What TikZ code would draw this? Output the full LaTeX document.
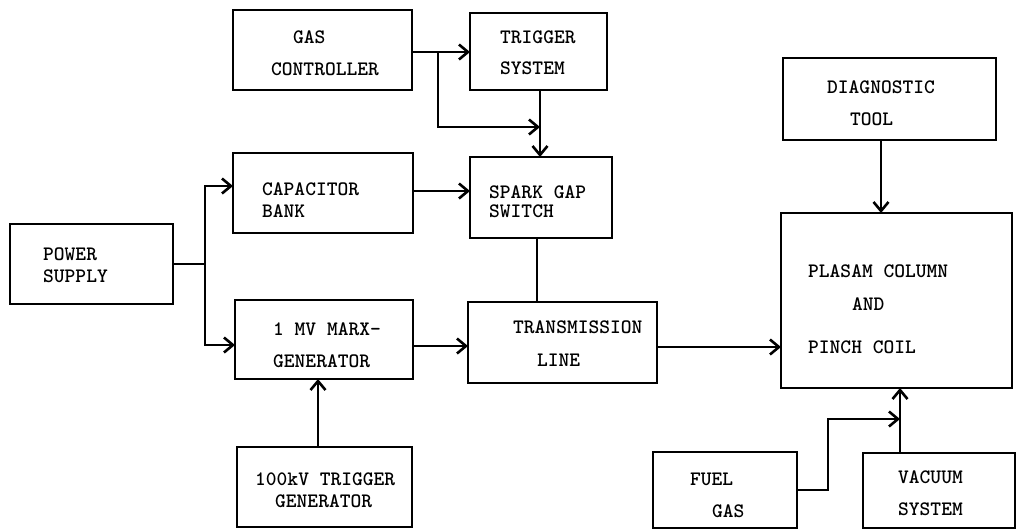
\documentclass[tikz,border=0pt]{standalone}
\usetikzlibrary{arrows.meta}
\begin{document}
\begin{tikzpicture}[x=1pt,y=-1pt,
  box/.style={draw,line width=2.8pt,inner sep=0pt,outer sep=0pt},
  lbl/.style={anchor=base west,inner sep=0pt,font=\fontsize{20.5}{24}\selectfont\ttfamily\bfseries},
  wire/.style={line width=2.8pt},
  arr/.style={wire,-{Straight Barb[length=9pt,width=15pt,line width=2.6pt]}}]
\useasboundingbox (0,0) rectangle (1029,531);
% boxes
\node[box,minimum width=163pt,minimum height=80pt] (ps) at (91.5,264) {};
\node[box,minimum width=179pt,minimum height=80pt] (gc) at (322.5,50) {};
\node[box,minimum width=137pt,minimum height=77pt] (ts) at (538.5,51.5) {};
\node[box,minimum width=180pt,minimum height=80pt] (cb) at (323,193) {};
\node[box,minimum width=142pt,minimum height=81pt] (sg) at (541,197.5) {};
\node[box,minimum width=178pt,minimum height=79pt] (mg) at (324,339.5) {};
\node[box,minimum width=189pt,minimum height=81pt] (tl) at (562.5,342.5) {};
\node[box,minimum width=231pt,minimum height=175pt] (pc) at (896.5,300.5) {};
\node[box,minimum width=213pt,minimum height=82pt] (dt) at (889.5,99) {};
\node[box,minimum width=175pt,minimum height=80pt] (tg) at (324.5,487) {};
\node[box,minimum width=144pt,minimum height=76pt] (fg) at (725,490) {};
\node[box,minimum width=152pt,minimum height=75pt] (vs) at (939,490.5) {};
% labels
\node[lbl] (ps1) at (43,260) {POWER};
\node[lbl] (ps2) at (43,282) {SUPPLY};
\node[lbl] (gc1) at (293,43) {GAS};
\node[lbl] (gc2) at (271,75) {CONTROLLER};
\node[lbl] (ts1) at (500,43) {TRIGGER};
\node[lbl] (ts2) at (500,74) {SYSTEM};
\node[lbl] (cb1) at (262,195) {CAPACITOR};
\node[lbl] (cb2) at (262,217) {BANK};
\node[lbl] (sg1) at (489,198) {SPARK GAP};
\node[lbl] (sg2) at (489,217) {SWITCH};
\node[lbl] (mg1) at (273,335) {1 MV MARX-};
\node[lbl] (mg2) at (273,367) {GENERATOR};
\node[lbl] (tl1) at (513,333) {TRANSMISSION};
\node[lbl] (tl2) at (537,366) {LINE};
\node[lbl] (pc1) at (808,277) {PLASAM COLUMN};
\node[lbl] (pc2) at (852,310) {AND};
\node[lbl] (pc3) at (808,353) {PINCH COIL};
\node[lbl] (dt1) at (827,93) {DIAGNOSTIC};
\node[lbl] (dt2) at (850,125) {TOOL};
\node[lbl] (tg1) at (255,485) {100kV TRIGGER};
\node[lbl] (tg2) at (275,507) {GENERATOR};
\node[lbl] (fg1) at (690,485) {FUEL};
\node[lbl] (fg2) at (712,517) {GAS};
\node[lbl] (vs1) at (898,483) {VACUUM};
\node[lbl] (vs2) at (898,515) {SYSTEM};
% junction coordinates
\coordinate (j1) at (205,264);
\coordinate (j2) at (438,52);
\coordinate (j3) at (828,419);
% connectors
\draw[wire] (ps.east |- j1) -- (j1);
\draw[arr] (j1) |- (cb.west |- 0,186);
\draw[arr] (j1) |- (mg.west |- 0,345);
\draw[arr] (gc.east |- j2) -- (ts.west |- j2);
\draw[arr] (j2) |- (540,127);
\draw[arr] (ts.south -| 540,0) -- (sg.north -| 540,0);
\draw[arr] (cb.east |- 0,191) -- (sg.west |- 0,191);
\draw[wire] (sg.south -| 537,0) -- (tl.north -| 537,0);
\draw[arr] (mg.east |- 0,346) -- (tl.west |- 0,346);
\draw[arr] (tl.east |- 0,347) -- (pc.west |- 0,347);
\draw[arr] (dt.south -| 881,0) -- (pc.north -| 881,0);
\draw[arr] (tg.north -| 318,0) -- (mg.south -| 318,0);
\draw[arr] (fg.east |- 0,490) -| (j3) -- (900,419);
\draw[arr] (vs.north -| 900,0) -- (pc.south -| 900,0);
\end{tikzpicture}
\end{document}
